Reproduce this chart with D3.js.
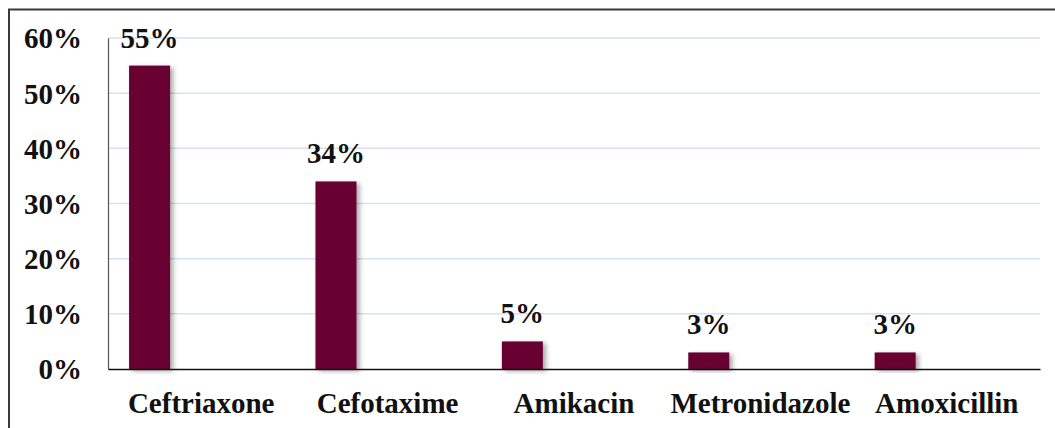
<!DOCTYPE html>
<html>
<head>
<meta charset="utf-8">
<script src="https://cdn.jsdelivr.net/npm/d3@7"></script>
<style>
html,body{margin:0;padding:0;background:#fff;}
svg{display:block;}
</style>
</head>
<body>
<svg id="chart" width="1055" height="428"></svg>
<script>
const categories = ["Ceftriaxone","Cefotaxime","Amikacin","Metronidazole","Amoxicillin"];
const values = [55,34,5,3,3];
const yTicks = [0,10,20,30,40,50,60];

const FONT = "'Liberation Serif', 'Times New Roman', 'DejaVu Serif', serif";
const svg = d3.select("#chart");
const W = 1055, H = 428;
const m = {left:108, right:1040, top:38, bottom:369};

const defs = svg.append("defs");
const f = defs.append("filter").attr("id","shadow").attr("x","-30%").attr("y","-10%").attr("width","160%").attr("height","130%");
f.append("feDropShadow").attr("dx",3).attr("dy",2).attr("stdDeviation",2.5).attr("flood-color","#000").attr("flood-opacity",0.35);

// outer border
svg.append("rect").attr("x",9).attr("y",9.5).attr("width",W).attr("height",H)
  .attr("fill","none").attr("stroke","#3a3a3a").attr("stroke-width",2);

const x = d3.scaleBand().domain(categories).range([m.left,m.right]).padding(0);
const y = d3.scaleLinear().domain([0,60]).range([m.bottom,m.top]);
const bw = x.bandwidth();

// gridlines
svg.append("g").selectAll("line").data(yTicks.filter(d=>d>0)).join("line")
  .attr("x1",m.left).attr("x2",m.right)
  .attr("y1",d=>y(d)).attr("y2",d=>y(d))
  .attr("stroke","#d5e2f3").attr("stroke-width",1.5);

function styleText(sel){
  sel.style("font-family",FONT).style("font-weight","bold").style("font-size","29px").attr("fill","#111");
}

// y axis
const yAxis = d3.axisLeft(y).tickValues(yTicks).tickFormat(d=>d+"%").tickSize(0).tickPadding(26);
const gy = svg.append("g").attr("transform",`translate(${m.left},0)`).call(yAxis);
gy.attr("font-family",null).attr("font-size",null);
gy.select(".domain").attr("stroke","#555").attr("stroke-width",1.2);
gy.selectAll("text").call(styleText).attr("dy","0.34em");

// bars
svg.append("g").selectAll("rect").data(values).join("rect")
  .attr("x",(d,i)=>x(categories[i]) + bw*0.113)
  .attr("width",bw*0.22)
  .attr("y",d=>y(d))
  .attr("height",d=>y(0)-y(d))
  .attr("fill","#680032")
  .attr("filter","url(#shadow)");

// value labels
svg.append("g").selectAll("text").data(values).join("text")
  .attr("x",(d,i)=>x(categories[i]) + bw*0.113 + bw*0.11)
  .attr("y",d=>y(d)-18)
  .attr("text-anchor","middle")
  .call(styleText)
  .text(d=>d+"%");

// x axis
const xAxis = d3.axisBottom(x).tickSize(0).tickPadding(23);
const gx = svg.append("g").attr("transform",`translate(0,${m.bottom})`).call(xAxis);
gx.attr("font-family",null).attr("font-size",null);
gx.select(".domain").attr("stroke","#111").attr("stroke-width",1.5);
gx.selectAll("text").call(styleText);
</script>
</body>
</html>
